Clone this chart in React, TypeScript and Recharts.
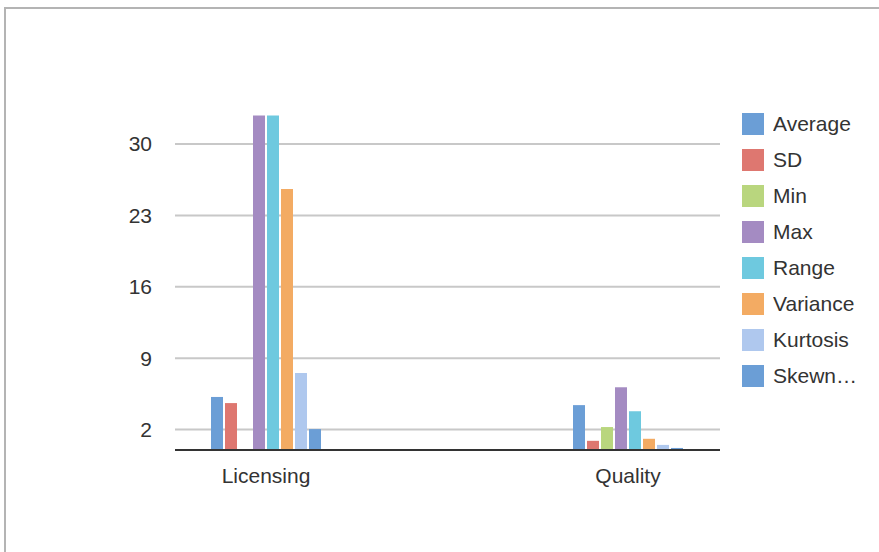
import React from "react";
import { BarChart, Bar, XAxis, YAxis, CartesianGrid } from "recharts";

const categories = ["Licensing", "Quality"];

const average = [5.2, 4.4];
const sd = [4.6, 0.9];
const min = [0, 2.25];
const max = [32.8, 6.15];
const range = [32.8, 3.8];
const variance = [25.6, 1.1];
const kurtosis = [7.55, 0.5];
const skewness = [2.05, 0.2];

const yTicks = [2, 9, 16, 23, 30];

const series = [
  { key: "average", name: "Average", color: "#6b9ed6", values: average },
  { key: "sd", name: "SD", color: "#de7770", values: sd },
  { key: "min", name: "Min", color: "#b9d67e", values: min },
  { key: "max", name: "Max", color: "#a48bc2", values: max },
  { key: "range", name: "Range", color: "#6ec9df", values: range },
  { key: "variance", name: "Variance", color: "#f3ab63", values: variance },
  { key: "kurtosis", name: "Kurtosis", color: "#afc8ee", values: kurtosis },
  { key: "skewness", name: "Skewness", color: "#6b9ed6", values: skewness },
];

const data = categories.map((name, i) => {
  const row: Record<string, string | number> = { name };
  series.forEach((s) => {
    row[s.key] = s.values[i];
  });
  return row;
});

const FONT = "'Liberation Sans', Arial, sans-serif";
const TEXT = "#333333";

// legend sits beside the plot, outside the chart's own layout
function LegendList() {
  return (
    <div
      style={{
        position: "absolute",
        left: 742,
        top: 106,
        fontFamily: FONT,
        fontSize: 21,
        color: TEXT,
      }}
    >
      {series.map((s) => (
        <div
          key={s.key}
          style={{ display: "flex", alignItems: "center", height: 36 }}
        >
          <span
            style={{
              display: "inline-block",
              width: 22,
              height: 22,
              background: s.color,
              marginRight: 9,
            }}
          />
          <span
            style={{
              display: "inline-block",
              width: 90,
              overflow: "hidden",
              textOverflow: "ellipsis",
              whiteSpace: "nowrap",
            }}
          >
            {s.name}
          </span>
        </div>
      ))}
    </div>
  );
}

export default function App() {
  return (
    <div
      style={{
        position: "absolute",
        left: 0,
        top: 0,
        width: 879,
        height: 552,
        overflow: "hidden",
        background: "#fff",
      }}
    >
      <div
        style={{
          position: "absolute",
          left: 4,
          top: 7,
          width: 900,
          height: 600,
          borderTop: "2px solid #b4b4b4",
          borderLeft: "2px solid #b4b4b4",
        }}
      />
      <BarChart
        width={879}
        height={552}
        data={data}
        margin={{ top: 93, right: 159, bottom: 0, left: 0 }}
        barSize={12}
        barGap={2}
        style={{ position: "absolute", left: 0, top: 0 }}
      >
        <CartesianGrid
          vertical={false}
          horizontalValues={yTicks}
          stroke="#c8c8c8"
          strokeWidth={2}
        />
        <XAxis
          dataKey="name"
          height={102}
          padding={{ left: -90, right: -89 }}
          axisLine={{ stroke: "#333333", strokeWidth: 2 }}
          tickLine={false}
          tickMargin={12}
          tick={{ fontSize: 21, fill: TEXT, fontFamily: FONT }}
        />
        <YAxis
          width={175}
          domain={[0, 35]}
          ticks={yTicks}
          axisLine={false}
          tickLine={false}
          tickMargin={17}
          tick={{ fontSize: 21, fill: TEXT, fontFamily: FONT }}
        />
        {series.map((s) => (
          <Bar
            key={s.key}
            dataKey={s.key}
            name={s.name}
            fill={s.color}
            isAnimationActive={false}
          />
        ))}
      </BarChart>
      <LegendList />
    </div>
  );
}
